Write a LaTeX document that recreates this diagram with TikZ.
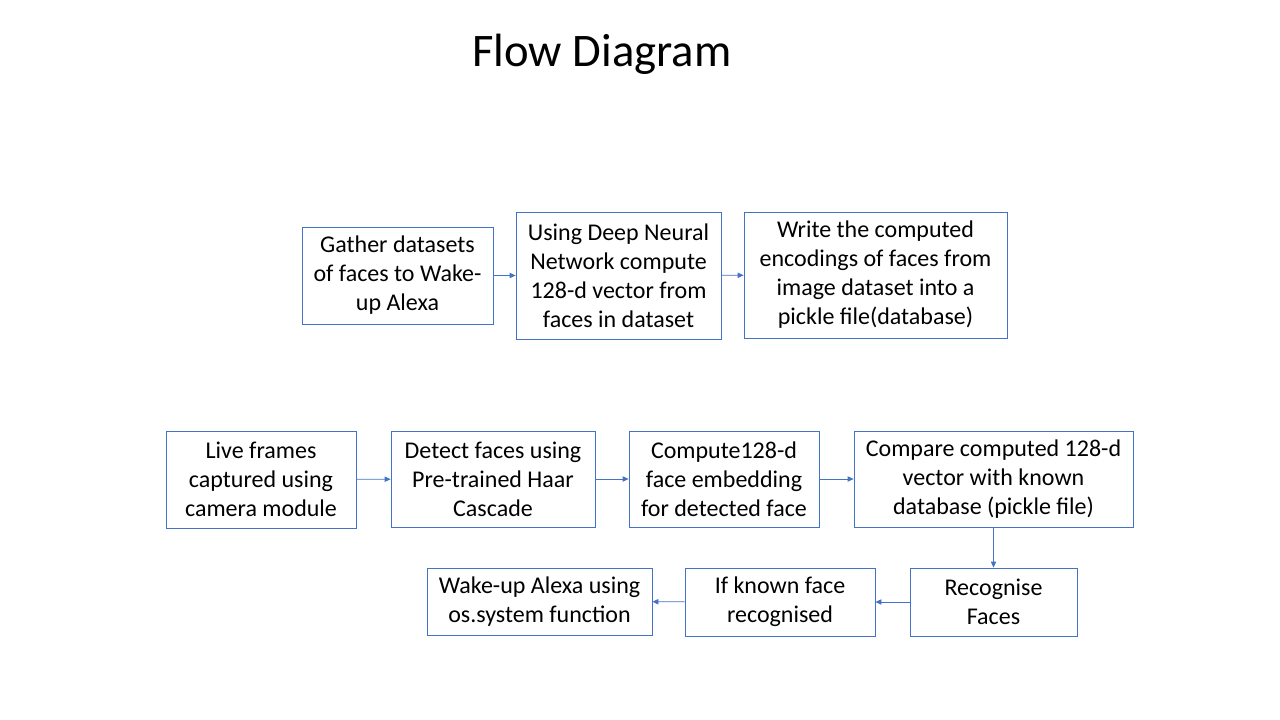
\documentclass[tikz,border=0pt]{standalone}
\usepackage{fontspec}
\setmainfont{Carlito}
\usepackage{xcolor}
\usetikzlibrary{arrows.meta}
\definecolor{boxblue}{HTML}{4472C4}

\begin{document}
\begin{tikzpicture}[x=0.75pt, y=-0.75pt,
    stage/.style={draw=boxblue, line width=0.6pt, align=center, inner sep=0pt,
      font=\fontsize{18}{21.75}\selectfont},
    flow/.style={draw=boxblue, line width=0.6pt, -{Triangle[length=4.5pt,width=4pt]}}]
      \useasboundingbox (0, 0) rectangle (1280, 720);
      \node[font=\fontsize{35}{40}\selectfont] (title) at (602, 54) {Flow Diagram};
      % training part
      \node[stage, minimum width=143.25pt, minimum height=72.75pt] (gather) at (397.5, 275.5) {Gather datasets\\of faces to Wake-\\up Alexa};
      \node[stage, minimum width=153.75pt, minimum height=95.25pt] (dnn) at (618.5, 275.5) {Using Deep Neural\\Network compute\\128-d vector from\\faces in dataset};
      \node[stage, minimum width=197.25pt, minimum height=94.5pt] (write) at (875.5, 275) {Write the computed\\encodings of faces from\\image dataset into a\\pickle file(database)};
      \draw[flow] (gather) -- (dnn);
      \draw[flow] (dnn) -- (write);
      % recognition part
      \node[stage, minimum width=142.5pt, minimum height=72.75pt] (live) at (261, 479.5) {Live frames\\captured using\\camera module};
      \node[stage, minimum width=153pt, minimum height=72pt] (detect) at (493, 479) {Detect faces using\\Pre-trained Haar\\Cascade};
      \node[stage, minimum width=142.5pt, minimum height=72pt] (embed) at (724, 479) {Compute128-d\\face embedding\\for detected face};
      \node[stage, minimum width=209.25pt, minimum height=72pt] (compare) at (993.5, 479) {Compare computed 128-d\\vector with known\\database (pickle file)};
      \node[stage, minimum width=125.25pt, minimum height=51pt] (recog) at (993.5, 602) {Recognise\\Faces};
      \node[stage, minimum width=142.5pt, minimum height=51pt] (known) at (780, 602) {If known face\\recognised};
      \node[stage, minimum width=168.75pt, minimum height=50.25pt] (wake) at (539.5, 601.5) {Wake-up Alexa using\\os.system function};
      \draw[flow] (live) -- (detect);
      \draw[flow] (detect) -- (embed);
      \draw[flow] (embed) -- (compare);
      \draw[flow] (compare) -- (recog);
      \draw[flow] (recog) -- (known);
      \draw[flow] (known) -- (wake);
\end{tikzpicture}
\end{document}
